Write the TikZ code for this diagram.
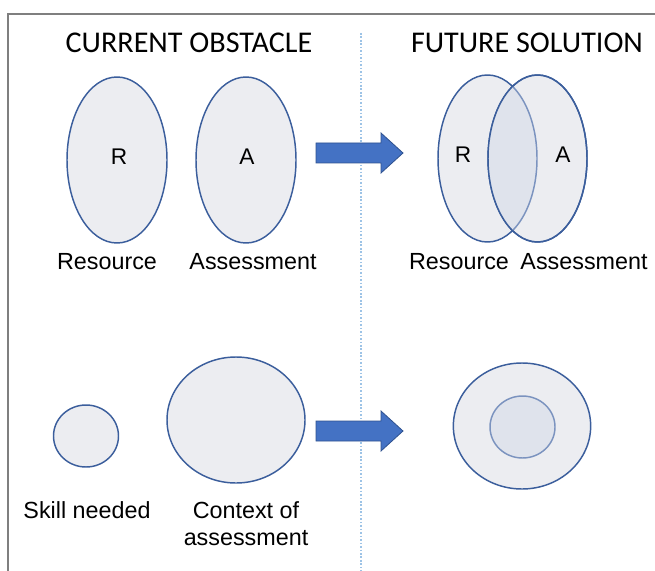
\documentclass[tikz,border=0pt]{standalone}
\usepackage{fontspec}
\setmainfont{Liberation Sans}
\newfontfamily\titlefont{Carlito}
\usetikzlibrary{shapes.geometric}

\definecolor{framegray}{HTML}{7F7F7F}
\definecolor{divider}{HTML}{9DC3E6}
\definecolor{setfill}{HTML}{ECEDF1}
\definecolor{setline}{HTML}{3B5E9C}
\definecolor{overlapfill}{HTML}{DFE3EC}
\definecolor{overlapline}{HTML}{7B93BF}
\definecolor{arrowfill}{HTML}{4472C4}
\definecolor{arrowline}{HTML}{2F528F}

\tikzset{
  setshape/.style={ellipse, draw=setline, fill=setfill, line width=1.1pt, inner sep=0pt},
  innerset/.style={ellipse, draw=overlapline, fill=overlapfill, line width=1.1pt, inner sep=0pt},
  heading/.style={font=\titlefont\fontsize{22.6}{27}\selectfont, inner sep=0pt},
  caption/.style={font=\fontsize{17.5}{20.5}\selectfont, inner sep=0pt, align=center},
  letter/.style={font=\fontsize{17}{20}\selectfont, inner sep=0pt},
  blockarrow/.style={fill=arrowfill, draw=arrowline, line width=0.6pt, line join=miter},
}

\begin{document}
\begin{tikzpicture}[x=0.75pt, y=-0.75pt]
  \useasboundingbox (0,0) rectangle (655,570);

  % outer frame (top and left edges)
  \draw[framegray, line width=1.6pt] (8,572) -- (8,14) -- (657,14);

  % dotted divider between the two columns
  \draw[divider, line width=1pt, dash pattern=on 1.2pt off 1.4pt] (361,33) -- (361,572);

  % headings
  \node[heading] (hcur) at (189,43) {CURRENT OBSTACLE};
  \node[heading] (hfut) at (527,43) {FUTURE SOLUTION};

  % ---- current obstacle: separate sets ----
  \node[setshape, minimum width=75pt, minimum height=124.5pt] (res) at (117,160) {};
  \node[letter] (resL) at (119,157) {R};
  \node[setshape, minimum width=75pt, minimum height=124.5pt] (ass) at (246,160) {};
  \node[letter] (assL) at (247,157) {A};
  \node[caption] (resC) at (107,262) {Resource};
  \node[caption] (assC) at (253,262) {Assessment};

  \node[setshape, minimum width=48.75pt, minimum height=46.5pt] (skill) at (86,436) {};
  \node[setshape, minimum width=103.5pt, minimum height=94.5pt] (ctx) at (236,420) {};
  \node[caption] (skillC) at (87,510) {Skill needed};
  \node[caption] (ctxC) at (246,523.5) {Context of\\assessment};

  % ---- block arrows ----
  \draw[blockarrow] (316,143) -- (381,143) -- (381,133) -- (403,153)
        -- (381,173) -- (381,163) -- (316,163) -- cycle;
  \draw[blockarrow] (316,421) -- (381,421) -- (381,411) -- (403,431)
        -- (381,451) -- (381,441) -- (316,441) -- cycle;

  % ---- future solution: overlapping sets ----
  \node[setshape, minimum width=74.25pt, minimum height=125.25pt] (res2) at (487.5,158.5) {};
  \node[setshape, minimum width=74.25pt, minimum height=125.25pt] (ass2) at (537.5,158.5) {};
  \begin{scope}
    \clip (537.5,158.5) ellipse [x radius=49.5, y radius=83.5];
    \fill[overlapfill] (487.5,158.5) ellipse [x radius=49.5, y radius=83.5];
    \draw[overlapline, line width=1.1pt] (487.5,158.5) ellipse [x radius=49.5, y radius=83.5];
  \end{scope}
  \draw[setline, line width=1.1pt] (537.5,158.5) ellipse [x radius=49.5, y radius=83.5];
  \node[letter] (res2L) at (463,155) {R};
  \node[letter] (ass2L) at (563,155) {A};
  \node[caption] (res2C) at (459,262) {Resource};
  \node[caption] (ass2C) at (584,262) {Assessment};

  \node[setshape, minimum width=103pt, minimum height=94.5pt] (ctx2) at (522,426) {};
  \node[innerset, minimum width=48.75pt, minimum height=46.5pt] (skill2) at (522.5,427) {};
\end{tikzpicture}
\end{document}
